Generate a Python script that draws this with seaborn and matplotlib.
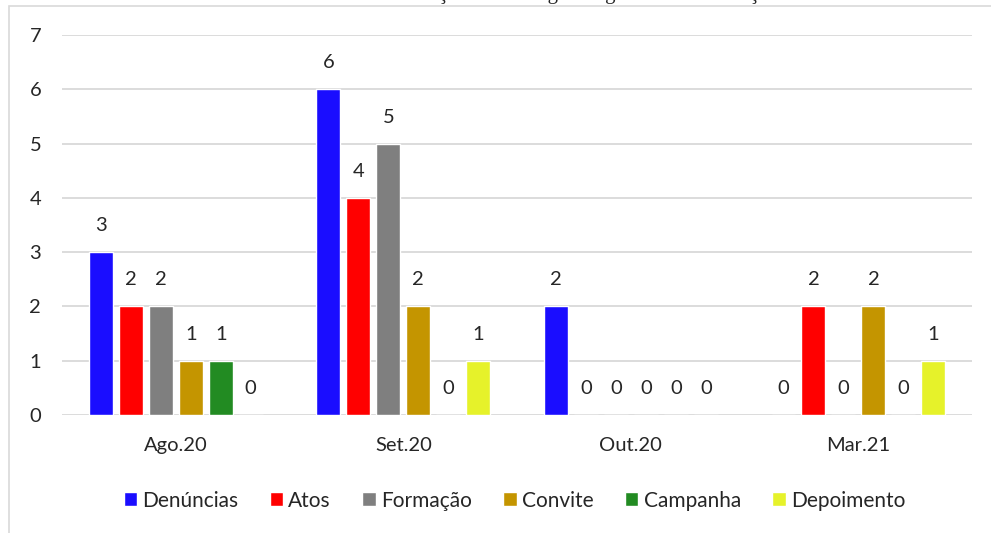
import pandas as pd
import matplotlib.pyplot as plt
import seaborn as sns
from matplotlib.patches import Rectangle

meses = ['Ago.20', 'Set.20', 'Out.20', 'Mar.21']
tipos = ['Denúncias', 'Atos', 'Formação', 'Convite', 'Campanha', 'Depoimento']
denuncias = [3, 6, 2, 0]
atos = [2, 4, 0, 2]
formacao = [2, 5, 0, 0]
convite = [1, 2, 0, 2]
campanha = [1, 0, 0, 0]
depoimento = [0, 1, 0, 1]
cores = ['#1A0DFF', '#FF0000', '#7F7F7F', '#C49500', '#228B22', '#E6F22A']

valores = [denuncias, atos, formacao, convite, campanha, depoimento]
rows = []
for t, vals in zip(tipos, valores):
    for m, v in zip(meses, vals):
        rows.append({'mes': m, 'tipo': t, 'valor': v})
df = pd.DataFrame(rows)

sns.set_style('white')
plt.rcParams['font.family'] = ['Lato', 'DejaVu Sans']

fig = plt.figure(figsize=(9.91, 5.33), dpi=100)
ax = fig.add_axes([0.0626, 0.2214, 0.9184, 0.7129])

sns.barplot(data=df, x='mes', y='valor', hue='tipo', order=meses, hue_order=tipos,
            palette=cores, saturation=1, width=0.79, gap=0.2, ax=ax, legend=True)

for c in ax.containers:
    ax.bar_label(c, padding=13, fontsize=14.5)

ax.set_ylim(0, 7)
ax.set_yticks(range(8))
ax.yaxis.grid(True, color='#D9D9D9', linewidth=1.3)
ax.set_axisbelow(True)
for s in ax.spines.values():
    s.set_visible(False)
ax.tick_params(axis='both', length=0, labelsize=14.5)
ax.tick_params(axis='y', pad=15)
ax.tick_params(axis='x', pad=16)
ax.set_xlabel('')
ax.set_ylabel('')

ax.legend(loc='upper center', bbox_to_anchor=(0.497, -0.15), ncol=6, frameon=False,
          fontsize=15, handlelength=0.65, handleheight=0.65, handletextpad=0.25,
          columnspacing=1.5)

# borda do gráfico e título cortado
fig.patches.append(Rectangle((9 / 991, -0.05), 1.0, 1 - 6 / 533 + 0.05,
                             transform=fig.transFigure, fill=False,
                             edgecolor='#D9D9D9', linewidth=1.2))
fig.text(0.55, 1 + 1 / 533, 'Gráfico 3 – Publicações no Instagram agosto 2020 a março 2021',
         ha='center', va='baseline', fontsize=15, family='Liberation Serif')

fig.savefig('out.png', dpi=100)
